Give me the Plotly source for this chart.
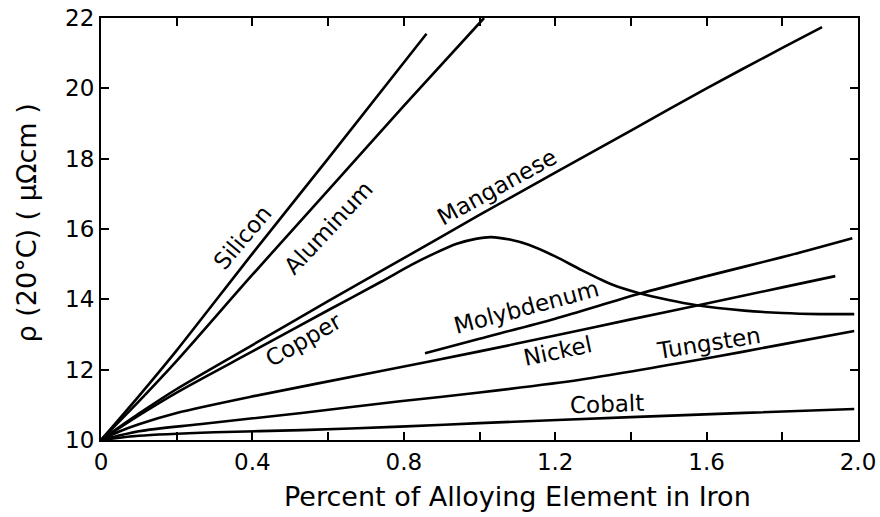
import plotly.graph_objects as go

# resistivity of iron alloys at 20 C vs. percent of alloying element
silicon_x = [0, 0.1, 0.2, 0.4, 0.6, 0.86]
silicon_y = [10, 11.25, 12.55, 15.3, 18.0, 21.55]

aluminum_x = [0, 0.1, 0.2, 0.4, 0.6, 0.8, 1.012]
aluminum_y = [10, 11.1, 12.25, 14.7, 17.1, 19.5, 22.0]

manganese_x = [0, 0.1, 0.2, 0.4, 0.6, 0.8, 1.0, 1.2, 1.4, 1.6, 1.8, 1.905]
manganese_y = [10, 10.75, 11.45, 12.7, 13.95, 15.17, 16.4, 17.6, 18.8, 20.0, 21.15, 21.74]

copper_x = [0, 0.1, 0.2, 0.4, 0.6, 0.74, 0.82, 0.88, 0.94, 0.99, 1.03, 1.08, 1.13,
            1.2, 1.27, 1.35, 1.42, 1.5, 1.57, 1.7, 1.8, 1.9, 1.99]
copper_y = [10, 10.7, 11.35, 12.52, 13.69, 14.5, 14.98, 15.3, 15.58, 15.72, 15.77, 15.7,
            15.55, 15.22, 14.83, 14.42, 14.18, 13.98, 13.84, 13.68, 13.61, 13.58, 13.58]

molybdenum_x = [0.856, 1.0, 1.2, 1.42, 1.6, 1.8, 1.985]
molybdenum_y = [12.47, 12.88, 13.45, 14.15, 14.66, 15.2, 15.74]

nickel_x = [0, 0.05, 0.1, 0.2, 0.4, 0.74, 1.0, 1.2, 1.4, 1.6, 1.8, 1.94]
nickel_y = [10, 10.25, 10.45, 10.77, 11.24, 11.96, 12.52, 12.97, 13.43, 13.88, 14.34, 14.66]

tungsten_x = [0, 0.1, 0.26, 0.53, 0.79, 1.0, 1.27, 1.62, 1.8, 1.99]
tungsten_y = [10, 10.25, 10.45, 10.77, 11.1, 11.35, 11.72, 12.36, 12.72, 13.10]

cobalt_x = [0, 0.1, 0.3, 0.53, 0.79, 1.0, 1.4, 1.7, 1.99]
cobalt_y = [10, 10.12, 10.22, 10.28, 10.38, 10.48, 10.65, 10.77, 10.88]

curves = [
    (silicon_x, silicon_y), (aluminum_x, aluminum_y), (manganese_x, manganese_y),
    (copper_x, copper_y), (molybdenum_x, molybdenum_y), (nickel_x, nickel_y),
    (tungsten_x, tungsten_y), (cobalt_x, cobalt_y),
]

# curve labels: text, x, y, angle
labels = [
    ("Silicon", 0.375, 15.77, -50),
    ("Aluminum", 0.60, 16.03, -47),
    ("Manganese", 1.046, 17.19, -29),
    ("Copper", 0.534, 12.84, -30),
    ("Molybdenum", 1.125, 13.78, -15),
    ("Nickel", 1.207, 12.53, -12),
    ("Tungsten", 1.606, 12.76, -9),
    ("Cobalt", 1.337, 11.02, -2),
]

x_ticks = [0, 0.2, 0.4, 0.6, 0.8, 1.0, 1.2, 1.4, 1.6, 1.8, 2.0]
x_ticktext = ["0", "", "0.4", "", "0.8", "", "1.2", "", "1.6", "", "2.0"]
y_ticks = [10, 12, 14, 16, 18, 20, 22]

FONT = "DejaVu Sans"
NB = "\u00a0"

fig = go.Figure()
for xs, ys in curves:
    fig.add_trace(go.Scatter(
        x=xs, y=ys, mode='lines',
        line=dict(color='black', width=2.6, shape='spline', smoothing=0.8),
        showlegend=False, hoverinfo='skip'
    ))

for text, lx, ly, ang in labels:
    fig.add_annotation(x=lx, y=ly, text=text, textangle=ang, showarrow=False,
                       font=dict(family=FONT, size=23, color='black'))

# axis titles as annotations so they can sit where the original has them
fig.add_annotation(
    xref='paper', yref='paper', x=-0.098, y=0.515, xanchor='center', yanchor='middle',
    text=f"ρ{NB}(20°C){NB}({NB}μΩcm{NB})", textangle=-90, showarrow=False,
    font=dict(family=FONT, size=27, color='black')
)
fig.add_annotation(
    xref='paper', yref='paper', x=0.55, y=-0.135, xanchor='center', yanchor='middle',
    text="Percent of Alloying Element in Iron", showarrow=False,
    font=dict(family=FONT, size=27, color='black')
)

axis_common = dict(
    showline=True, linecolor='black', linewidth=2, mirror='ticks',
    ticks='inside', ticklen=8, tickwidth=2, tickcolor='black',
    showgrid=False, zeroline=False, automargin=False, ticklabeloverflow='allow',
    tickfont=dict(family=FONT, size=23, color='black'),
)

fig.update_xaxes(range=[0, 2.0], tickvals=x_ticks, ticktext=x_ticktext, **axis_common)
fig.update_yaxes(range=[10, 22], tickvals=y_ticks, **axis_common)

fig.update_layout(
    width=880, height=517,
    margin=dict(l=101, r=22, t=18, b=77),
    plot_bgcolor='white', paper_bgcolor='white',
)

# drop the page's default body margin so the figure fills the window without scrollbars
fig.write_html("out.html", config={'displayModeBar': False},
               post_script="document.body.style.margin='0';"
                           "document.body.style.overflow='hidden';")
